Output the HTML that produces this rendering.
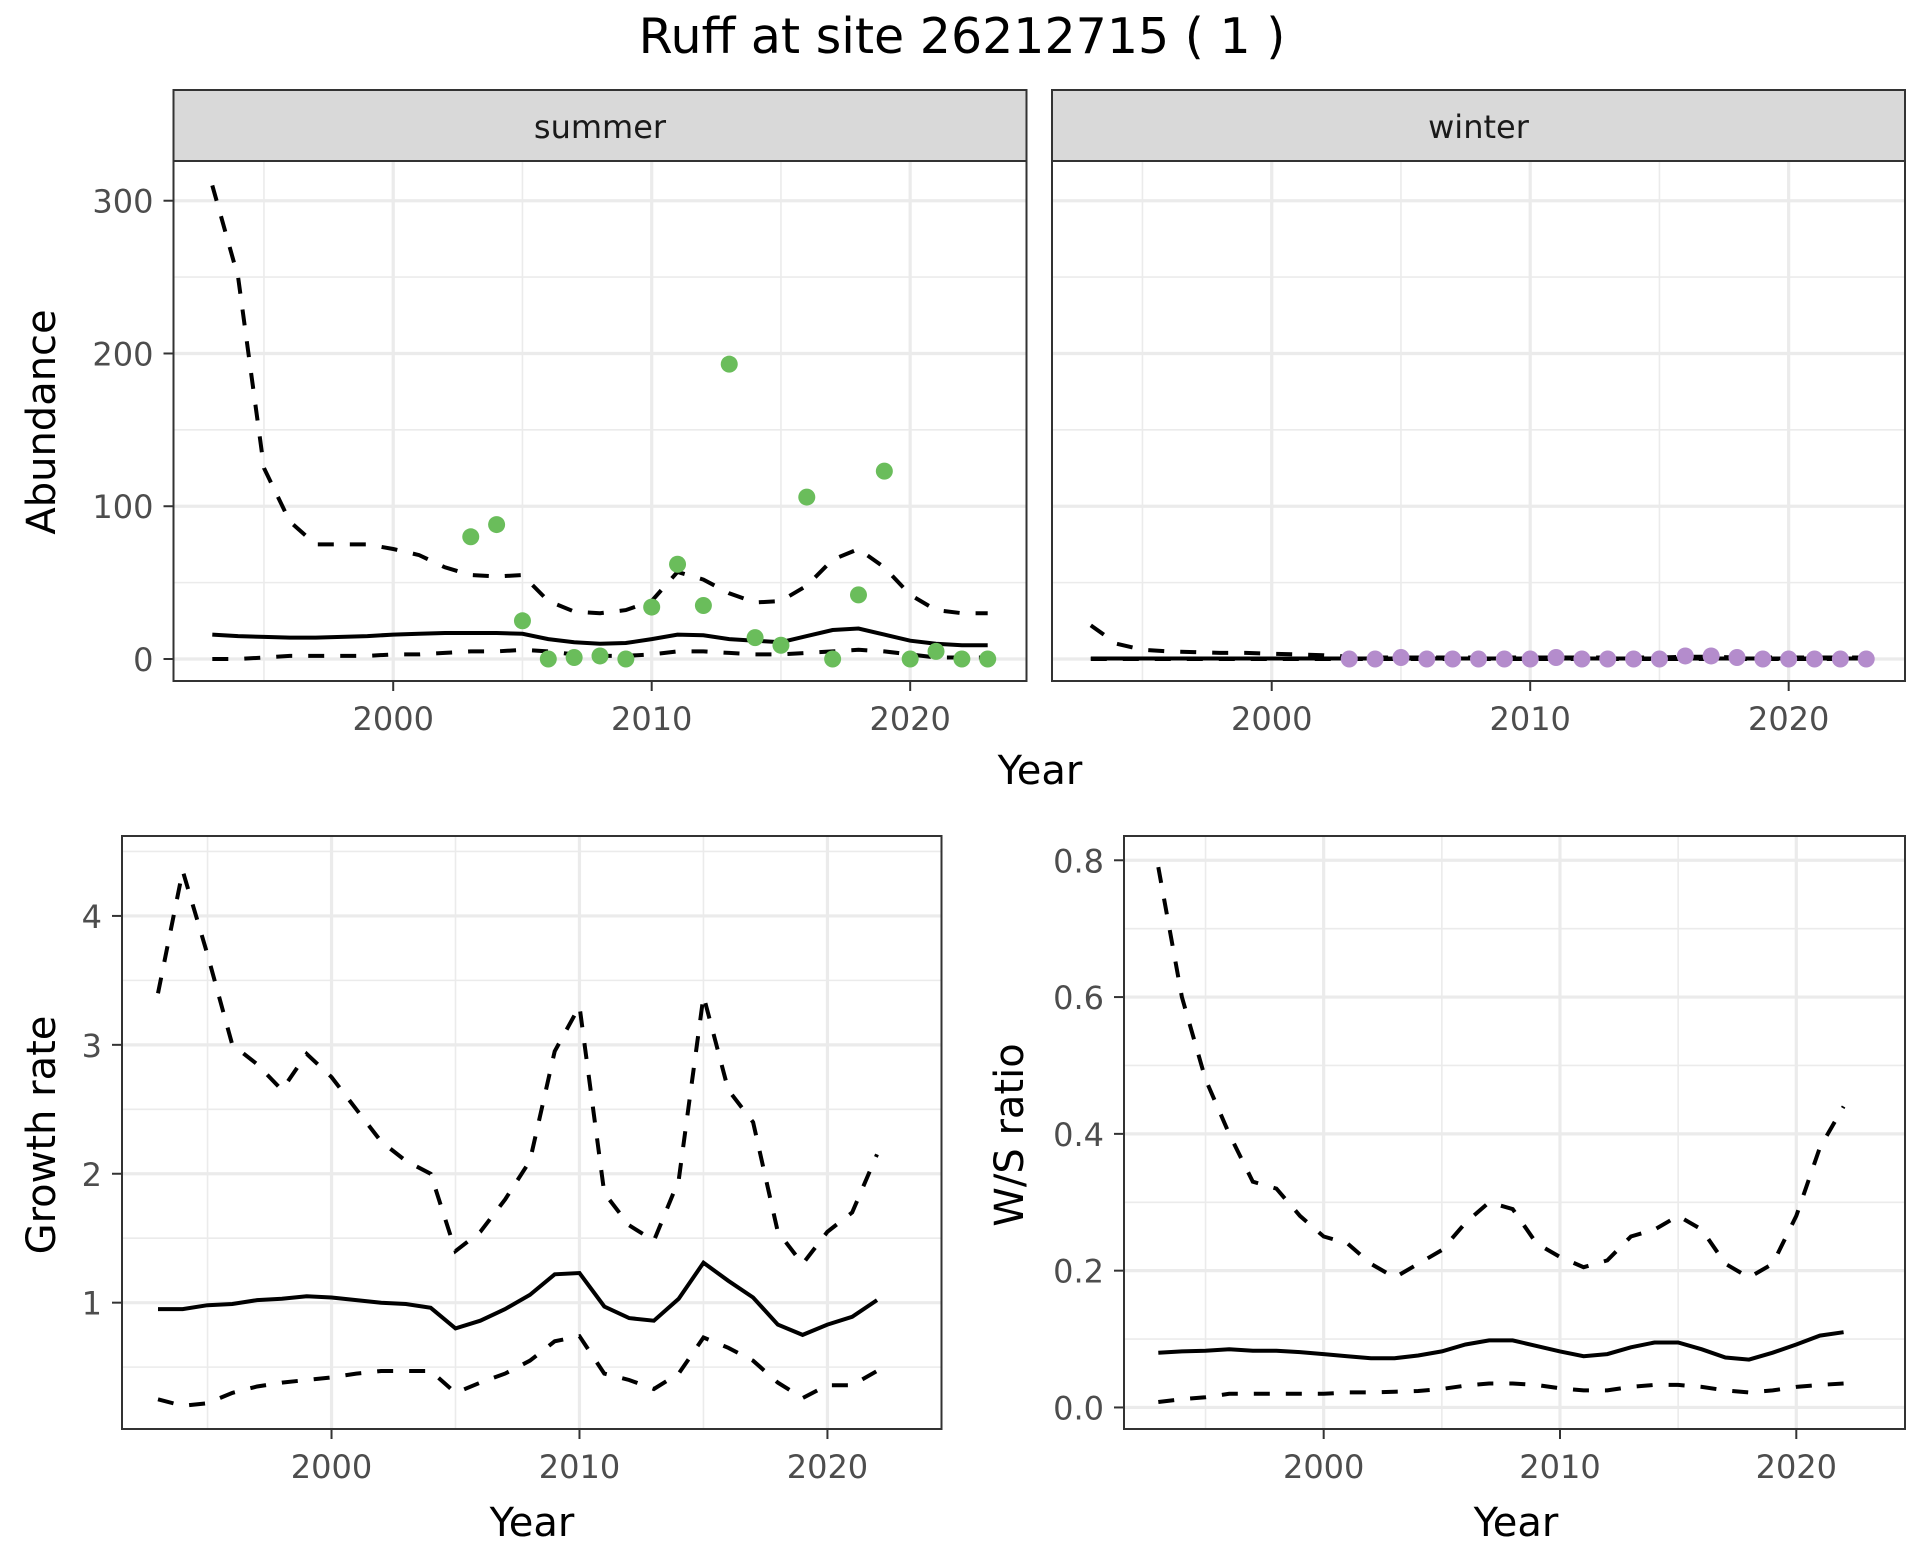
<!DOCTYPE html>
<html><head><meta charset="utf-8"><style>
html,body{margin:0;padding:0;background:#fff}
svg{display:block;font-family:"DejaVu Sans","Liberation Sans",sans-serif}
</style></head><body>
<svg id="chart" width="1920" height="1560" viewBox="0 0 1920 1560">
<text x="962" y="53" text-anchor="middle" font-size="49" fill="#000">Ruff at site 26212715 ( 1 )</text>
</svg>
<script>
const yearsAll = [1993,1994,1995,1996,1997,1998,1999,2000,2001,2002,2003,2004,2005,2006,2007,2008,2009,2010,2011,2012,2013,2014,2015,2016,2017,2018,2019,2020,2021,2022,2023];
const summerMean = [16,15,14.5,14,14,14.5,15,16,16.5,17,17,17,16.5,13,11,10,10.5,13,16,15.5,13,12,11,15,19,20,16,12,10,9,9];
const summerUpper = [310,250,125,90,75,75,75,72,68,60,55,54,55,38,31,30,32,38,57,52,43,37,38,48,65,72,60,42,32,30,30];
const summerLower = [0,0,1,2,2,2,2,3,3,4,5,5,6,5,3,2,2,3,5,5,4,3,3,4,5,6,5,3,1,1,1];
const summerObsYears = [2003,2004,2005,2006,2007,2008,2009,2010,2011,2012,2013,2014,2015,2016,2017,2018,2019,2020,2021,2022,2023];
const summerObs = [80,88,25,0,1,2,0,34,62,35,193,14,9,106,0,42,123,0,5,0,0];
const winterMean = [0.3,0.3,0.3,0.3,0.3,0.3,0.3,0.3,0.3,0.3,0.3,0.3,0.3,0.3,0.3,0.3,0.3,0.3,0.3,0.3,0.3,0.3,0.3,0.3,0.3,0.3,0.3,0.3,0.3,0.3,0.3];
const winterUpper = [22,10,6,5,4.5,4,4,3.5,3,2.5,1.5,1,1,1,1,1,1,1,1,1,1,1,1,1.5,1.5,1,1,1,1,1,1];
const winterLower = [0,0,0,0,0,0,0,0,0,0,0,0,0,0,0,0,0,0,0,0,0,0,0,0,0,0,0,0,0,0,0];
const winterObsYears = [2003,2004,2005,2006,2007,2008,2009,2010,2011,2012,2013,2014,2015,2016,2017,2018,2019,2020,2021,2022,2023];
const winterObs = [0,0,1,0,0,0,0,0,1,0,0,0,0,2,2,1,0,0,0,0,0];
const yearsGr = [1993,1994,1995,1996,1997,1998,1999,2000,2001,2002,2003,2004,2005,2006,2007,2008,2009,2010,2011,2012,2013,2014,2015,2016,2017,2018,2019,2020,2021,2022];
const growthMean = [0.95,0.95,0.98,0.99,1.02,1.03,1.05,1.04,1.02,1.00,0.99,0.96,0.80,0.86,0.95,1.06,1.22,1.23,0.97,0.88,0.86,1.03,1.31,1.17,1.04,0.83,0.75,0.83,0.89,1.02];
const growthUpper = [3.4,4.35,3.7,3.0,2.85,2.65,2.93,2.75,2.5,2.25,2.1,2.0,1.4,1.55,1.8,2.1,2.95,3.3,1.85,1.6,1.48,1.95,3.38,2.65,2.4,1.55,1.3,1.55,1.7,2.15];
const growthLower = [0.25,0.2,0.22,0.3,0.35,0.38,0.4,0.42,0.45,0.47,0.47,0.47,0.3,0.38,0.45,0.55,0.7,0.74,0.45,0.4,0.33,0.45,0.73,0.65,0.55,0.38,0.26,0.36,0.36,0.47];
const wsMean = [0.08,0.082,0.083,0.085,0.083,0.083,0.081,0.078,0.075,0.072,0.072,0.076,0.082,0.092,0.098,0.098,0.09,0.082,0.075,0.078,0.088,0.095,0.095,0.085,0.073,0.070,0.080,0.092,0.105,0.11];
const wsUpper = [0.79,0.6,0.48,0.4,0.33,0.32,0.28,0.25,0.24,0.21,0.19,0.21,0.23,0.27,0.3,0.29,0.24,0.22,0.205,0.215,0.25,0.26,0.28,0.26,0.21,0.19,0.21,0.28,0.38,0.44];
const wsLower = [0.008,0.012,0.015,0.02,0.02,0.02,0.02,0.02,0.022,0.022,0.023,0.024,0.027,0.032,0.035,0.035,0.033,0.028,0.025,0.025,0.03,0.033,0.033,0.03,0.025,0.022,0.025,0.03,0.033,0.035];
const xTicks = [2000,2010,2020];
const xMinor = [1995,2005,2015];
const abTicks = [0,100,200,300];
const abMinor = [50,150,250];
const grTicks = [1,2,3,4];
const grMinor = [1.5,2.5,3.5,4.5,0.5];
const wsTicks = [0,0.2,0.4,0.6,0.8];
const wsMinor = [0.1,0.3,0.5,0.7];

const NS='http://www.w3.org/2000/svg';
const svg=document.getElementById('chart');
function mk(tag,attrs,parent){const e=document.createElementNS(NS,tag);for(const k in attrs)e.setAttribute(k,attrs[k]);(parent||svg).appendChild(e);return e;}
function lin(d0,d1,r0,r1){return v=>r0+(v-d0)/(d1-d0)*(r1-r0);}

function panel(o){
  const g=mk('g',{});
  
  
  const x=lin(o.xd[0],o.xd[1],o.L,o.R), y=lin(o.yd[0],o.yd[1],o.B,o.T);
  mk('rect',{x:o.L,y:o.T,width:o.R-o.L,height:o.B-o.T,fill:'#fff'},g);
  o.yMinor.forEach(v=>{const yy=y(v);if(yy>o.T&&yy<o.B)mk('line',{x1:o.L,x2:o.R,y1:yy,y2:yy,stroke:'#ebebeb','stroke-width':1.6},g);});
  xMinor.forEach(v=>mk('line',{x1:x(v),x2:x(v),y1:o.T,y2:o.B,stroke:'#ebebeb','stroke-width':1.6},g));
  o.yTicks.forEach(v=>mk('line',{x1:o.L,x2:o.R,y1:y(v),y2:y(v),stroke:'#ebebeb','stroke-width':3.2},g));
  xTicks.forEach(v=>mk('line',{x1:x(v),x2:x(v),y1:o.T,y2:o.B,stroke:'#ebebeb','stroke-width':3.2},g));
  const path=(xs,ys,dash)=>mk('path',{d:xs.map((xx,i)=>(i?'L':'M')+x(xx).toFixed(1)+','+y(ys[i]).toFixed(1)).join(''),fill:'none',stroke:'#000','stroke-width':4,'stroke-dasharray':dash?'16,16':'none'},g);
  const pu=path(o.years,o.upper,true);
  
  
  const pl=path(o.years,o.lower,true);
  
  
  const pm=path(o.years,o.mean,false);
  
  
  if(o.obs){o.obsYears.forEach((yr,i)=>{const c=mk('circle',{cx:x(yr),cy:y(o.obs[i]),r:8.5,fill:o.color},g);
    
    });}
  mk('rect',{x:o.L,y:o.T,width:o.R-o.L,height:o.B-o.T,fill:'none',stroke:'#333','stroke-width':2},g);
  if(o.strip){const s=mk('rect',{x:o.L,y:o.T-71,width:o.R-o.L,height:71,fill:'#d9d9d9',stroke:'#333','stroke-width':2},g);
    
    
    const t=mk('text',{x:(o.L+o.R)/2,y:o.T-23,'text-anchor':'middle','font-size':32,fill:'#1a1a1a'},g);t.textContent=o.strip;
    
    }
  if(o.showY){o.yTicks.forEach((v,i)=>{mk('line',{x1:o.L-10,x2:o.L,y1:y(v),y2:y(v),stroke:'#333','stroke-width':2},g);
    const t=mk('text',{x:o.L-20,y:y(v)+12,'text-anchor':'end','font-size':32,fill:'#4d4d4d'},g);t.textContent=o.yLabels[i];
    
    });}
  xTicks.forEach(v=>{mk('line',{x1:x(v),x2:x(v),y1:o.B,y2:o.B+10,stroke:'#333','stroke-width':2},g);
    const t=mk('text',{x:x(v),y:o.B+49,'text-anchor':'middle','font-size':32,fill:'#4d4d4d'},g);t.textContent=v;
    
    });
}
panel({name:'summer-panel',L:173.5,R:1026.5,T:161,B:681,xd:[1991.5,2024.5],yd:[-14.4,326],years:yearsAll,mean:summerMean,upper:summerUpper,lower:summerLower,obs:summerObs,obsYears:summerObsYears,color:'#6abd5b',strip:'summer',showY:true,yTicks:abTicks,yMinor:abMinor,yLabels:['0','100','200','300']});
panel({name:'winter-panel',L:1052,R:1905,T:161,B:681,xd:[1991.5,2024.5],yd:[-14.4,326],years:yearsAll,mean:winterMean,upper:winterUpper,lower:winterLower,obs:winterObs,obsYears:winterObsYears,color:'#b48ccc',strip:'winter',showY:false,yTicks:abTicks,yMinor:abMinor,yLabels:[]});
panel({name:'growth-rate-panel',L:122,R:941.5,T:836,B:1429,xd:[1991.55,2024.6],yd:[0.02,4.62],years:yearsGr,mean:growthMean,upper:growthUpper,lower:growthLower,showY:true,yTicks:grTicks,yMinor:grMinor,yLabels:['1','2','3','4']});
panel({name:'ws-ratio-panel',L:1124,R:1905,T:836,B:1429,xd:[1991.55,2024.6],yd:[-0.0315,0.8355],years:yearsGr,mean:wsMean,upper:wsUpper,lower:wsLower,showY:true,yTicks:wsTicks,yMinor:wsMinor,yLabels:['0.0','0.2','0.4','0.6','0.8']});
function label(txt,xx,yy,rot,name){const t=mk('text',{x:xx,y:yy,'text-anchor':'middle','font-size':40,fill:'#000',transform:rot?`rotate(-90 ${xx} ${yy})`:''});t.textContent=txt;
  
  }
label('Year',1040,784,false,'x-axis-title-top');
label('Year',532,1536,false,'x-axis-title-growth');
label('Year',1516,1536,false,'x-axis-title-ws');
label('Abundance',55,422,true,'y-axis-title-abundance');
label('Growth rate',55,1135,true,'y-axis-title-growth');
label('W/S ratio',1023,1135,true,'y-axis-title-ws');
</script>
</body></html>
